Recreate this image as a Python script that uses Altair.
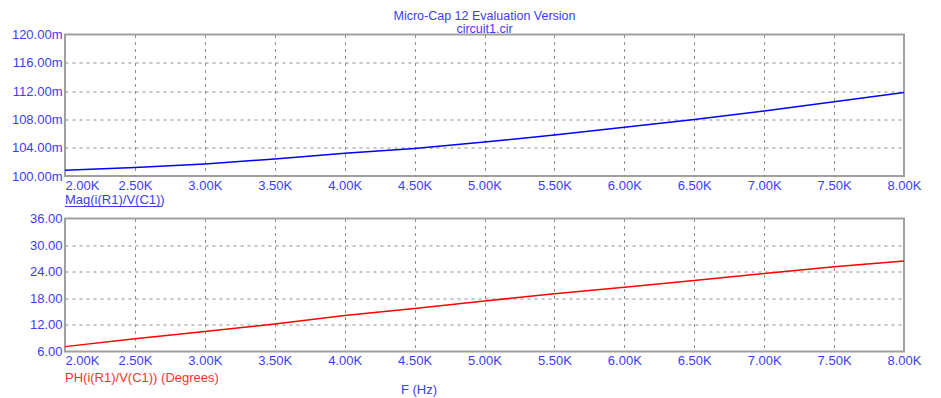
import altair as alt
import pandas as pd

# ---- data ----
freq_hz = [2000, 2500, 3000, 3500, 4000, 4500, 5000, 5500, 6000, 6500, 7000, 7500, 8000]
mag_milli = [100.8, 101.2, 101.7, 102.4, 103.2, 103.9, 104.8, 105.8, 106.9, 108.0, 109.2, 110.5, 111.8]
phase_deg = [7.1, 8.9, 10.5, 12.2, 14.1, 15.7, 17.4, 19.0, 20.5, 22.0, 23.6, 25.1, 26.4]

x_ticks = [2000, 2500, 3000, 3500, 4000, 4500, 5000, 5500, 6000, 6500, 7000, 7500, 8000]
mag_ticks = [100, 104, 108, 112, 116, 120]
ph_ticks = [6, 12, 18, 24, 30, 36]

title_lines = ["Micro-Cap 12 Evaluation Version", "circuit1.cir"]
mag_label = ["Mag(i(R1)/V(C1))"]
ph_label = ["PH(i(R1)/V(C1)) (Degrees)"]
x_label = ["F (Hz)"]

# ---- style ----
FONT = "Liberation Sans"
FS = 13
TFS = 12.5
BLUE_TXT = "#3c3cff"
RED_TXT = "#ff3030"
GRID = "#8c8c8c"
W = 839
H1 = 141.5
H2 = 133

df = pd.DataFrame({"f": freq_hz, "mag": mag_milli, "ph": phase_deg})


def x_axis():
    return alt.Axis(
        values=x_ticks,
        labelExpr="format(datum.value/1000, '.2f') + 'K'",
        labelAlign={"condition": {"test": "datum.value == 2000", "value": "left"}, "value": "center"},
        grid=True,
        gridDash=[3, 4],
        gridColor=GRID,
        gridOpacity={"condition": {"test": "datum.value == 2000 || datum.value == 8000", "value": 0}, "value": 1},
        ticks=False,
        tickSize=0,
        domain=False,
        labelPadding=3,
        labelColor=BLUE_TXT,
        labelFont=FONT,
        labelFontSize=FS,
        labelOverlap=False,
        labelBound=False,
        labelFlush=False,
        title=None,
    )


def y_axis(ticks, fmt, lo, hi):
    return alt.Axis(
        values=ticks,
        labelExpr=fmt,
        grid=True,
        gridDash=[3, 4],
        gridColor=GRID,
        gridOpacity={"condition": {"test": f"datum.value == {lo} || datum.value == {hi}", "value": 0}, "value": 1},
        ticks=False,
        tickSize=0,
        domain=False,
        labelPadding=3,
        labelColor=BLUE_TXT,
        labelFont=FONT,
        labelFontSize=FS,
        labelOverlap=False,
        labelBound=False,
        labelFlush=False,
        title=None,
    )


xs = alt.X("f:Q", scale=alt.Scale(domain=[2000, 8000], nice=False, zero=False), axis=x_axis())

top_line = alt.Chart(df).mark_line(color="#0000ff", strokeWidth=1.5).encode(
    x=xs,
    y=alt.Y("mag:Q", scale=alt.Scale(domain=[100, 120], nice=False, zero=False),
            axis=y_axis(mag_ticks, "format(datum.value, '.2f') + 'm'", 100, 120)),
)

title1 = alt.Chart(pd.DataFrame({"t": [title_lines[0]]})).mark_text(
    font=FONT, fontSize=TFS, color=BLUE_TXT, align="center", baseline="alphabetic"
).encode(text="t:N", x=alt.value(W / 2), y=alt.value(-15))
title2 = alt.Chart(pd.DataFrame({"t": [title_lines[1]]})).mark_text(
    font=FONT, fontSize=TFS, color=BLUE_TXT, align="center", baseline="alphabetic"
).encode(text="t:N", x=alt.value(W / 2), y=alt.value(-2))

mag_txt = alt.Chart(pd.DataFrame({"t": mag_label})).mark_text(
    font=FONT, fontSize=FS, color=BLUE_TXT, align="left", baseline="alphabetic"
).encode(text="t:N", x=alt.value(0), y=alt.value(H1 + 28.3))
mag_ul = alt.Chart(pd.DataFrame({"t": mag_label})).mark_rule(color=BLUE_TXT, strokeWidth=1).encode(
    x=alt.value(0), x2=alt.value(97), y=alt.value(H1 + 30.5)
)

top = alt.layer(top_line, title1, title2, mag_txt, mag_ul).properties(width=W, height=H1)

bot_line = alt.Chart(df).mark_line(color="#ff0000", strokeWidth=1.5).encode(
    x=xs,
    y=alt.Y("ph:Q", scale=alt.Scale(domain=[6, 36], nice=False, zero=False),
            axis=y_axis(ph_ticks, "format(datum.value, '.2f')", 6, 36)),
)
ph_txt = alt.Chart(pd.DataFrame({"t": ph_label})).mark_text(
    font=FONT, fontSize=FS, color=RED_TXT, align="left", baseline="alphabetic"
).encode(text="t:N", x=alt.value(0), y=alt.value(H2 + 30.8))
f_txt = alt.Chart(pd.DataFrame({"t": x_label})).mark_text(
    font=FONT, fontSize=FS, color=BLUE_TXT, align="center", baseline="alphabetic"
).encode(text="t:N", x=alt.value(354), y=alt.value(H2 + 42.5))

bot = alt.layer(bot_line, ph_txt, f_txt).properties(width=W, height=H2)

chart = (
    alt.vconcat(top, bot, spacing=42, bounds="flush")
    .properties(padding={"left": 2, "top": 0.5, "right": 10, "bottom": 6}, background="white")
    .configure_view(stroke="#a0a0a0", strokeWidth=2)
)

chart.save("out.html", embed_options={"renderer": "svg", "actions": False})
